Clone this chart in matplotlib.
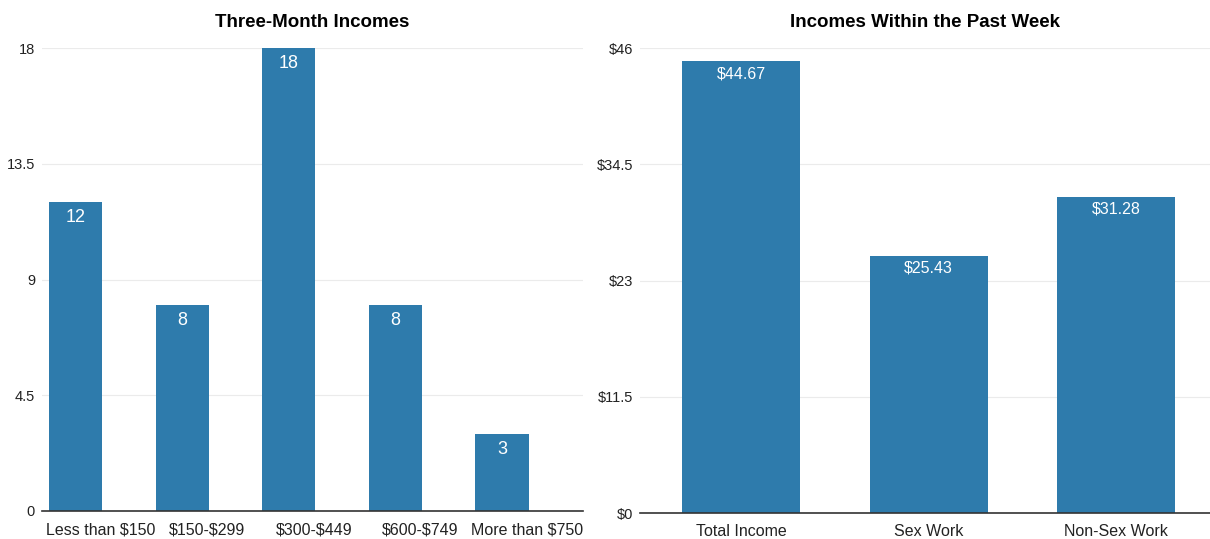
import matplotlib.pyplot as plt
from matplotlib.transforms import ScaledTranslation

plt.rcParams['font.family'] = ['Liberation Sans', 'DejaVu Sans']
plt.rcParams['text.parse_math'] = False

three_month_labels = ['Less than $150', '$150-$299', '$300-$449', '$600-$749', 'More than $750']
three_month_counts = [12, 8, 18, 8, 3]
three_month_ticks = [0, 4.5, 9, 13.5, 18]

week_labels = ['Total Income', 'Sex Work', 'Non-Sex Work']
week_incomes = [44.67, 25.43, 31.28]
week_ticks = [0, 11.5, 23, 34.5, 46]

bar_color = '#2e7bac'
W, H = 1210, 539

fig = plt.figure(figsize=(W / 100, H / 100), dpi=100)
ax1 = fig.add_axes([42 / W, 28 / H, 541 / W, 463 / H])
ax2 = fig.add_axes([640 / W, 26 / H, 570 / W, 465 / H])


def style(ax, ticks):
    ax.set_ylim(0, ticks[-1])
    ax.set_yticks(ticks)
    ax.grid(axis='y', color='#ebebeb', linewidth=0.8)
    ax.set_axisbelow(True)
    for s in ['top', 'right', 'left']:
        ax.spines[s].set_visible(False)
    ax.spines['bottom'].set_color('#333333')
    ax.spines['bottom'].set_linewidth(1.2)
    ax.tick_params(axis='both', length=0, colors='#222222')
    ax.tick_params(axis='y', pad=5, labelsize=10.5)
    ax.tick_params(axis='x', pad=8, labelsize=11.5)


# left panel
x1 = range(len(three_month_counts))
ax1.bar(x1, three_month_counts, width=0.5, color=bar_color)
ax1.set_xlim(-0.315, 4.76)
ax1.set_xticks(list(x1))
ax1.set_xticklabels(three_month_labels)
style(ax1, three_month_ticks)
ax1.set_yticklabels(['0', '4.5', '9', '13.5', '18'])
# category labels sit a little right of the bar centres in the original
shift = ScaledTranslation(25 / 100, 0, fig.dpi_scale_trans)
for lab in ax1.get_xticklabels():
    lab.set_transform(lab.get_transform() + shift)
for i, v in zip(x1, three_month_counts):
    ax1.text(i, v - 0.27, str(v), ha='center', va='top', color='white', fontsize=13)
ax1.set_title('Three-Month Incomes', fontsize=13.5, fontweight='bold', pad=15)

# right panel
x2 = range(len(week_incomes))
ax2.bar(x2, week_incomes, width=0.63, color=bar_color)
ax2.set_xlim(-0.54, 2.5)
ax2.set_xticks(list(x2))
ax2.set_xticklabels(week_labels)
style(ax2, week_ticks)
ax2.set_yticklabels(['$0', '$11.5', '$23', '$34.5', '$46'])
for i, v in zip(x2, week_incomes):
    ax2.text(i, v - 0.5, f'${v:.2f}', ha='center', va='top', color='white', fontsize=11.5)
ax2.set_title('Incomes Within the Past Week', fontsize=13.5, fontweight='bold', pad=15)

fig.savefig('out.png', dpi=100)
